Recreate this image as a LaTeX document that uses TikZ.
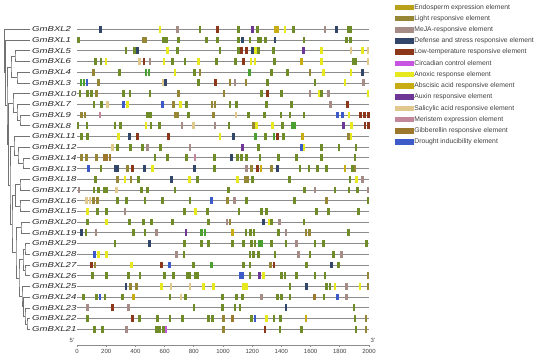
\documentclass[tikz,border=0pt]{standalone}
\usepackage{fontspec}
\setmainfont{Liberation Sans}
\newfontfamily\genefont{Liberation Sans}[FakeStretch=1.33]
\usetikzlibrary{positioning,calc}
\definecolor{cE}{RGB}{185,160,25}
\definecolor{cO}{RGB}{150,135,55}
\definecolor{cM}{RGB}{165,140,135}
\definecolor{cD}{RGB}{50,70,105}
\definecolor{cL}{RGB}{140,55,25}
\definecolor{cC}{RGB}{200,85,225}
\definecolor{cY}{RGB}{232,232,30}
\definecolor{cA}{RGB}{200,172,20}
\definecolor{cX}{RGB}{110,55,150}
\definecolor{cS}{RGB}{225,200,140}
\definecolor{cR}{RGB}{195,135,155}
\definecolor{cQ}{RGB}{155,120,45}
\definecolor{cW}{RGB}{60,90,200}
\definecolor{cG}{RGB}{112,140,40}
\definecolor{cB}{RGB}{75,160,50}
\tikzstyle{gname}=[anchor=west,inner sep=0pt,text=black!85,
                   font=\genefont\itshape\fontsize{7.2}{8}\selectfont]
\tikzstyle{track}=[draw=black!45,line width=0.7pt]
\tikzstyle{branch}=[draw=black!55,line width=0.5pt]
\tikzstyle{swatch}=[rectangle,minimum width=19pt,minimum height=5.6pt,inner sep=0pt,
                    label distance=3pt]
\tikzstyle{keytext}=[font=\fontsize{6.8}{7}\selectfont,text=black!75,inner sep=0pt]
\tikzstyle{axislabel}=[font=\fontsize{6}{6.5}\selectfont,text=black!75,inner sep=0pt]
% clade: name, x of the node, upper child, lower child
\newcommand{\clade}[4]{%
  \coordinate (#1m) at ($(#3)!0.5!(#4)$);
  \coordinate (#1) at (#2,0 |- #1m);
  \draw[branch] (#3) -| (#1) |- (#4);}

\begin{document}
\begin{tikzpicture}[x=1pt,y=-1pt,node distance=5.23pt]
  \useasboundingbox (0,0) rectangle (550,356);
  % genes and their elements
  \foreach \n/\bx [count=\i from 0] in {
    2/{100.7/D,160/Y,177.3/M,200/G,217.7/L,238.3/G,252.7/X,257.7/G,275.5/A,278/A,285/Y,293.3/G,325/M,336.7/D,348.3/G,351/G},
    1/{78.3/G,143.3/O,146/O,163.3/G,166.7/G,178.3/G,206.7/G,217.7/G,238.3/G,242.3/D,250/G,258.3/G,261/G,265.7/G,275/D,304/G,346.7/G,350.7/G},
    5/{126/G,134.3/G,137.7/D,167.7/Y,177.7/G,220/G,238.3/G,241.7/L,246.7/L,252.3/D,255.7/Y,258.3/G,273.3/G,303.3/X,321.7/Y,351/S,362.3/Y,368/S},
    6/{95.7/G,101/G,106/Y,139.3/S,144/L,150/M,164/Y,172.3/G,185/G,198.3/Y,216.7/G,235.7/G,243.3/L,251/Y,255/Y,274.3/G,301.7/A,321.7/Y,353.3/G,356/G,368/S},
    4/{93.3/O,119.3/G,146/B,149/B,175/Y,194.3/G,200/O,249.3/B,271.7/G,287.7/G,310/O,323.3/Y,351/Y,362.7/D},
    3/{81/B,84/B,87/W,98.3/O,163.3/S,165.7/D,198.3/G,215.7/L,230/O,235/M,246/O,267.7/G,315/G,345/Y,363.3/M},
    10/{80/G,87.3/G,91.7/G,96.7/O,123.3/G,130/G,150/G,178.3/O,224/O,261.7/G,267.7/L,281.7/G,310/M,319/Y,321.7/G,328.3/M,368/Y},
    7/{94/G,101.7/G,107.3/S,123.3/W,127.3/Y,162.7/W,173.3/O,180.7/Y,186.7/G,212/O,215/O,230/G,236.7/G,266.7/G,291.7/G,330.7/M,347.3/L},
    9/{81.7/O,85/O,100/R,147.3/G,150.7/G,175.5/O,178/O,188.3/G,213.3/O,236/S,248.3/G,264.3/G,281/G,290/G,304/G,337.7/W,342.3/W,349/Y,360.5/L,364.5/L,368.5/L},
    8/{78/G,87/G,115/G,120.7/G,146/Y,151/G,159.3/G,182/M,193.3/S,215/M,229/G,253.3/O,256.7/Y,272.7/Y,282.7/G,292/B,294.7/B,343.3/X,351.7/Y,365/L,368.5/L},
    11/{81.7/G,87.7/G,118.3/Y,129.3/D,137.7/L,168.3/L,220/Y,233.3/D,255.7/B,265.7/G,274/B,277.7/L,283.3/G,302.3/A,348.3/O,351/Y},
    12/{112.3/S,117.3/G,130.7/G,142.7/G,147.3/M,160.7/G,190/M,242.3/X,258.3/G,301.7/W,304/Y,321.7/G,339/G,356/G},
    14/{81.7/O,86.7/O,96.7/O,104/Q,106.7/Q,110/Q,155/G,167.7/G,186.7/G,195/R,214.3/G,231.7/D,237.7/G,241.7/G,246.7/G,260/G,278.3/G,296.7/G,321.7/G,355/G},
    13/{88.3/W,101/G,115/D,117.5/D,127.3/O,132.7/L,144.3/D,152.7/Y,194.3/D,214.3/G,246.7/M,251.7/O,257.3/L,261/A,271.7/O,277.3/D,300/G,309/G,317.7/G,326.7/G,345/A,352.3/G,355/O},
    18/{95.7/G,117.3/O,125/Y,131/O,138.3/G,171.7/D,189.3/Y,197.3/G,237.3/Y,245/O,247.7/O,252.3/G,289.3/G,350/G,356.7/Y,362.3/M},
    17/{79/M,94/G,98.3/G,104.5/G,107/G,116.7/S,141.7/G,147.7/G,175/G,228.3/G,304.3/G,315/M,335/G,349/G,357.7/G,368/M},
    16/{86.7/S,90/S,93.3/O,97.7/O,117.7/G,126.7/G,145/G,162.3/G,190/G,211.7/W,227.7/O,234.3/M,246.7/G,294.3/G,326.7/O,368/G},
    15/{87.3/Y,97.7/G,106.7/G,125/M,184.3/G,195.7/Y,207.7/G,239/G,261.7/G,266.7/G,316.7/G,328.3/G,358.3/G},
    20/{87.3/G,106.7/Y,129.3/G,143.3/G,151.7/G,172.7/G,208.3/G,227/M,230/O,263.3/D,269/Y,271.5/G,279.3/M,304/G},
    19/{81.7/D,86/G,96/M,133.3/G,145/G,156.7/M,186/X,201.7/B,205/B,232.7/A,246/G,250.7/G,254/G,278.3/G,286/M,306/O,309.3/O,348.3/G},
    29/{115/G,149.3/D,184.3/G,201.7/G,208.3/G,232.7/G,243.3/G,251.7/G,255/G,259/B,261.6/B,271.7/G,286/G,296.7/M,315/G,323.3/G,366.7/G},
    28/{94.3/W,98.3/Y,106.7/Y,176.7/M,184/G,250/G,253.3/G,258.3/G,275/G,298.3/M,310/G,333.3/G,341.7/M},
    27/{91.7/L,95/O,131.7/Y,161.7/L,169.3/W,193.3/G,211.7/B,243.3/G,250/G,270.7/O,274/L,306.7/G,331.7/D,338.3/G},
    26/{92.7/G,106.7/G,128.3/G,140/G,164.3/G,173.3/G,187/G,189.6/G,195.5/G,198.1/G,240/W,242.7/W,250/G,259.3/X,263.3/Y,281.7/G,285/G,296.7/G,315/G,325/G,368/O},
    25/{126/D,130.7/O,136.7/O,161.7/Y,171/S,190/S,203.3/Y,213.3/Y,243.3/Y,246.7/Y,290/G,306.7/D,326.7/G,330/G,335/Y,346.7/M,360/Y,368/O},
    24/{83.3/G,96.7/G,100/W,105/G,122.7/G,133.3/A,170/G,181/S,185.7/G,222.7/G,236.7/G,242.7/G,261.7/M,277.7/G,281.7/G,290/G,314.3/Q,324/G,337.3/W,346.7/M},
    23/{87.3/M,112.7/L,128.3/M,194/G,222.7/G,235/G,240/G,286/D,354/G},
    22/{87.3/G,132.7/L,139.3/G,157.3/G,170/G,182.7/G,208.3/G,212.7/G,223.3/O,232.7/Q,251.7/G,255/W,266.7/Y,274/G,280.7/G,306/A,355/G,366/O},
    21/{94.3/G,102.7/G,126.7/M,156.7/G,159.3/G,163.3/G,165.9/C,223.3/O,265/L,280/G,301.7/G,356/G,366/O}}{
    \pgfmathsetmacro\yy{29.3+10.71*\i}
    \node[gname] (g\n) at (32,\yy) {GmBXL\n};
    \coordinate (l\n) at (30,\yy);
    \draw[track] (77,\yy) -- (369,\yy);
    \foreach \x/\c in \bx {\fill[c\c] (\x-1.35,\yy-3.4) rectangle (\x+1.35,\yy+3.4);}
  }
  % tree
  \clade{c56}{15}{l5}{l6}
  \clade{c43}{17}{l4}{l3}
  \clade{cA}{11}{c56}{c43}
  \clade{c98}{20}{l9}{l8}
  \clade{c7}{17}{l7}{c98}
  \clade{cB1}{13}{l10}{c7}
  \clade{c1413}{23}{l14}{l13}
  \clade{c12}{18}{l12}{c1413}
  \clade{cB2}{14}{l11}{c12}
  \clade{c1817}{20}{l18}{l17}
  \clade{c1615}{20}{l16}{l15}
  \clade{c1815}{15.5}{c1817}{c1615}
  \clade{c2019}{21}{l20}{l19}
  \clade{c2928}{25}{l29}{l28}
  \clade{c2726}{25}{l27}{l26}
  \clade{c2926}{23}{c2928}{c2726}
  \clade{c2221}{27}{l22}{l21}
  \clade{c23}{25}{l23}{c2221}
  \clade{c24}{23.5}{l24}{c23}
  \clade{c25}{22}{l25}{c24}
  \clade{c2921}{19}{c2926}{c25}
  \clade{c1921}{16}{c2019}{c2921}
  \clade{cB3}{12}{c1815}{c1921}
  \clade{cB23}{10}{cB2}{cB3}
  \clade{cB}{8.5}{cB1}{cB23}
  \clade{cAB}{7}{cA}{cB}
  \clade{c1}{5.5}{l1}{cAB}
  \clade{croot}{4.5}{l2}{c1}
  % scale
  \draw[track] (77,345) -- (369,345);
  \foreach \t in {0,200,...,2000}{
    \draw[track] (77+0.146*\t,345) -- ++(0,1.5);
    \node[axislabel] (t\t) at (77+0.146*\t,351) {\t};
  }
  \node[axislabel] (p5) at (72,340.5) {5'};
  \node[axislabel] (p3) at (373,340.5) {3'};
  % legend
  \node[swatch,fill=cE,label={[keytext]right:Endosperm expression element}] (k1) at (404.5,7.3) {};
  \node[swatch,fill=cO,below=of k1,label={[keytext]right:Light responsive element}] (k2) {};
  \node[swatch,fill=cM,below=of k2,label={[keytext]right:MeJA-responsive element}] (k3) {};
  \node[swatch,fill=cD,below=of k3,label={[keytext]right:Defense and stress responsive element}] (k4) {};
  \node[swatch,fill=cL,below=of k4,label={[keytext]right:Low-temperature responsive element}] (k5) {};
  \node[swatch,fill=cC,below=of k5,label={[keytext]right:Circadian control element}] (k6) {};
  \node[swatch,fill=cY,below=of k6,label={[keytext]right:Anoxic response element}] (k7) {};
  \node[swatch,fill=cA,below=of k7,label={[keytext]right:Abscisic acid responsive element}] (k8) {};
  \node[swatch,fill=cX,below=of k8,label={[keytext]right:Auxin responsive element}] (k9) {};
  \node[swatch,fill=cS,below=of k9,label={[keytext]right:Salicylic acid responsive element}] (k10) {};
  \node[swatch,fill=cR,below=of k10,label={[keytext]right:Meristem expression element}] (k11) {};
  \node[swatch,fill=cQ,below=of k11,label={[keytext]right:Gibberellin responsive element}] (k12) {};
  \node[swatch,fill=cW,below=of k12,label={[keytext]right:Drought inducibility element}] (k13) {};
\end{tikzpicture}
\end{document}
